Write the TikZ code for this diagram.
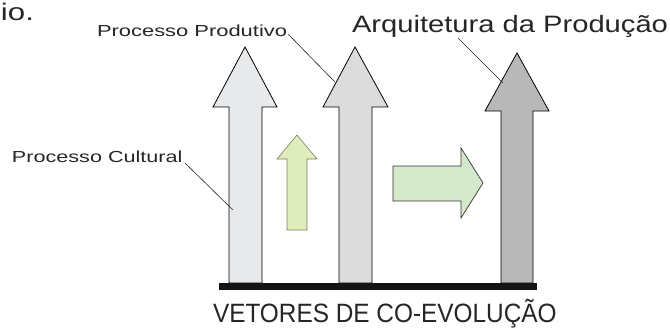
\documentclass[tikz,border=0pt]{standalone}
\usepackage{fontspec}
\setmainfont{Liberation Sans}
\begin{document}
\begin{tikzpicture}[x=1pt,y=-1pt,
  bigarrow/.style={draw=black,line width=0.8pt,line join=miter},
  leader/.style={draw=black!85,line width=0.6pt},
  lbl/.style={anchor=base west,inner sep=0pt,outer sep=0pt,text=black!85}]
\useasboundingbox (0,0) rectangle (670,327);
% big arrows
\path[bigarrow,fill={rgb,255:red,232;green,233;blue,235}]
  (229,283) -- (229,107) -- (213,107) -- (245,47) -- (277,107) -- (262,107) -- (262,283) -- cycle;
\path[bigarrow,fill={rgb,255:red,220;green,220;blue,220}]
  (339,283) -- (339,107) -- (323,107) -- (355,47) -- (388,107) -- (372,107) -- (372,283) -- cycle;
\path[bigarrow,fill={rgb,255:red,184;green,184;blue,184}]
  (501,283) -- (501,111) -- (485,111) -- (517,53) -- (549,111) -- (533,111) -- (533,283) -- cycle;
% green arrows
\path[draw={rgb,255:red,120;green,130;blue,100},line width=0.6pt,fill={rgb,255:red,223;green,236;blue,187}]
  (287,230) -- (287,159) -- (277,159) -- (297,135) -- (317,159) -- (307,159) -- (307,230) -- cycle;
\path[draw=black!80,line width=0.7pt,fill={rgb,255:red,212;green,232;blue,204}]
  (393,166) -- (461,166) -- (461,148) -- (483,183) -- (461,218) -- (461,201) -- (393,201) -- cycle;
% base bar
\fill[black!92] (219,283) rectangle (537,290);
% labels
\node[lbl] (io) at (1,20) {\fontsize{24}{24}\selectfont\scalebox{1.3}[1]{io.}};
\node[lbl] (prod) at (97,36) {\fontsize{16}{16}\selectfont\scalebox{1.37}[1]{Processo Produtivo}};
\node[lbl] (cult) at (12,162) {\fontsize{16}{16}\selectfont\scalebox{1.35}[1]{Processo Cultural}};
\node[lbl] (arq) at (352,32) {\fontsize{23.7}{24}\selectfont\scalebox{1.23}[1]{Arquitetura da Produção}};
\node[lbl] (vet) at (213,322) {\fontsize{26.5}{27}\selectfont\scalebox{0.92}[1]{VETORES DE CO-EVOLUÇÃO}};
% leader lines
\coordinate (p0) at (288,34); \coordinate (p1) at (335,82);
\coordinate (c0) at (185,163); \coordinate (c1) at (233,210);
\coordinate (a0) at (458,38); \coordinate (a1) at (503,83);
\draw[leader] (p0) -- (p1);
\draw[leader] (c0) -- (c1);
\draw[leader] (a0) -- (a1);
\end{tikzpicture}
\end{document}
